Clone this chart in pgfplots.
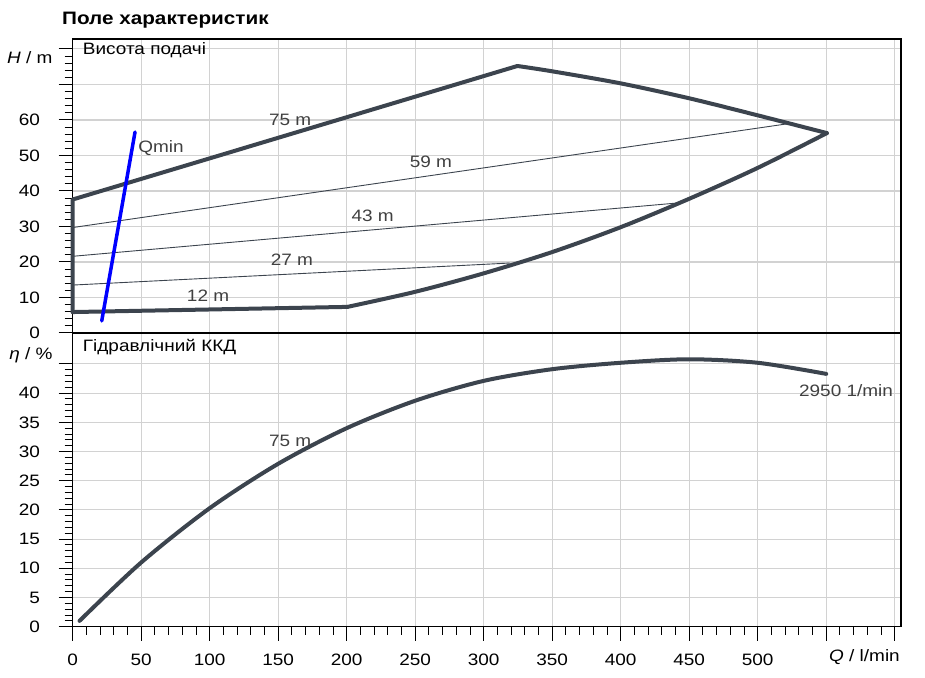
\documentclass[border=0pt]{standalone}
\usepackage{fontspec}
\setmainfont{Liberation Sans}[FakeStretch=1.15]
\usepackage{pgfplots}
\pgfplotsset{compat=1.18}
\definecolor{curve}{RGB}{60,68,78}
\definecolor{lab}{RGB}{64,64,64}
\definecolor{gridc}{RGB}{210,210,210}
\begin{document}
\fontsize{16.5bp}{19bp}\selectfont
\begin{tikzpicture}
\useasboundingbox (0bp,0bp) rectangle (925bp,678bp);
\pgfplotsset{
 base/.style={
  scale only axis, width=828.3bp, xmin=0, xmax=604.6, clip=false,
  xtick={0,50,...,600}, minor x tick num=4,
  tick pos=left, tick align=outside,
  major tick length=14bp, minor tick length=8bp,
  grid=major, major grid style={gridc, line width=1.1bp},
  axis line style={black, line width=1.3bp},
  tick style={black, line width=1bp},
  /pgf/number format/assume math mode=true,
  tick label style={font=\fontsize{16.5bp}{19bp}\selectfont},
  yticklabel style={xshift=-13bp},
  xticklabel style={yshift=-7.5bp},
  thick line/.style={curve, line width=4bp, line cap=round, line join=round},
  thin line/.style={curve, line width=0.9bp},
 }
}
\node[anchor=west, inner sep=0, font=\bfseries\fontsize{18bp}{21bp}\selectfont] at (62bp,658bp) {Поле характеристик};

% ---------- Head ----------
\begin{axis}[base, at={(72.7bp,345bp)}, anchor=south west, height=294bp,
  ymin=0, ymax=82.8, ytick={0,10,...,80},
  yticklabels={0,10,20,30,40,50,60,{},{}}, minor y tick num=4,
  xticklabels={},
  every major x tick/.append style={draw=none},
  every minor x tick/.append style={draw=none}]
% envelope 75 m (upper)
\addplot[thick line] coordinates {(0,5.9) (0,37.6) (324.6,75.2)};
\addplot[thick line, smooth] coordinates {(324.6,75.2) (350,73.7) (400,70.3) (450,66.1) (500,61.3) (550.5,56.3)};
% lower limit (12 m)
\addplot[thick line] coordinates {(0,5.9) (200.5,7.35)};
\addplot[thick line, smooth] coordinates {(200.5,7.35) (250,11.6) (300,16.8) (350,22.8) (400,29.8) (450,37.8) (500,46.5) (550.5,56.3)};
% intermediate
\addplot[thin line] coordinates {(0,29.7) (525,59.1)};
\addplot[thin line] coordinates {(0,21.6) (441,36.6)};
\addplot[thin line] coordinates {(0,13.5) (319,19.7)};
% Qmin
\addplot[blue, line width=3.5bp, line cap=round] coordinates {(21.2,3.4) (45.5,56.6)};
\node[lab, inner sep=0] at (axis cs:158.7,59.9) {75 m};
\node[lab, inner sep=0] at (axis cs:261.5,48.1) {59 m};
\node[lab, inner sep=0] at (axis cs:219,32.9) {43 m};
\node[lab, inner sep=0] at (axis cs:160,20.5) {27 m};
\node[lab, inner sep=0] at (axis cs:98.8,10.4) {12 m};
\node[lab, inner sep=0] at (axis cs:64.5,52) {Qmin};
\node[anchor=west, inner sep=0] at ([xshift=10bp,yshift=-11bp]rel axis cs:0,1) {Висота подачі};
\node[anchor=east, inner sep=0] at ([xshift=-20bp,yshift=-19bp]rel axis cs:0,1) {\textit{H} / m};
\end{axis}

% ---------- Efficiency ----------
\begin{axis}[base, at={(72.7bp,51.3bp)}, anchor=south west, height=293.7bp,
  ymin=0, ymax=50.3, ytick={0,5,...,45},
  yticklabels={0,5,10,15,20,25,30,35,40,{}}, minor y tick num=4,
  xticklabels={0,50,100,150,200,250,300,350,400,450,500,{},{}}]
\addplot[thick line, smooth] coordinates {(5,1.0) (50,11.0) (100,20.3) (150,27.9) (200,34.0) (250,38.7) (300,42.1) (350,44.1) (400,45.2) (450,45.8) (500,45.2) (550,43.3)};
\node[lab, inner sep=0] at (axis cs:158.7,31.8) {75 m};
\node[lab, inner sep=0] at (axis cs:564.5,40.5) {2950 1/min};
\node[anchor=west, inner sep=0] at ([xshift=10bp,yshift=-14bp]rel axis cs:0,1) {Гідравлічний ККД};
\node[anchor=east, inner sep=0] at ([xshift=-20bp,yshift=-22bp]rel axis cs:0,1) {\textit{η} / \%};
\node[anchor=east, inner sep=0] at ([xshift=-1bp,yshift=-30bp]rel axis cs:1,0) {\textit{Q} / l/min};
\end{axis}
\end{tikzpicture}
\end{document}
